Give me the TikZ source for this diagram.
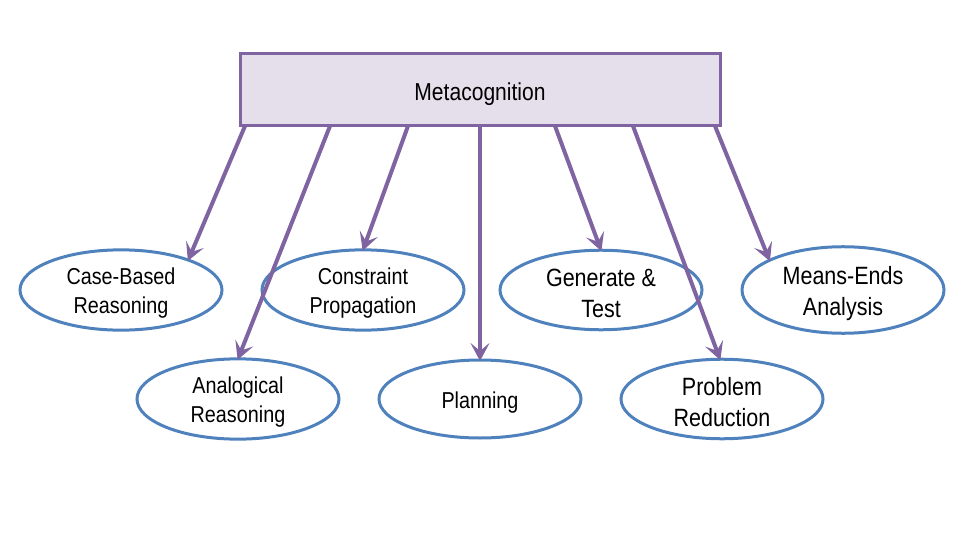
\documentclass[tikz,border=0pt]{standalone}
\usepackage{fontspec}
\setmainfont{Liberation Sans}[FakeStretch=0.86]
\usetikzlibrary{shapes.geometric,arrows.meta}
\definecolor{mpurple}{HTML}{8064A2}
\definecolor{mfill}{HTML}{E5DFEC}
\definecolor{mblue}{HTML}{4F81BD}
\newcommand{\tup}{\rule{0pt}{1em}}
\begin{document}
\begin{tikzpicture}[x=1pt,y=-1pt,
  topbox/.style={draw=mpurple, fill=mfill, line width=3pt, minimum width=480pt, minimum height=72pt, inner sep=0pt, outer sep=0pt, font=\fontsize{24.5}{28}\selectfont},
  oval/.style={ellipse, draw=mblue, line width=3pt, minimum width=202pt, minimum height=78pt, inner sep=0pt, outer sep=0pt, align=center},
  smalltext/.style={font=\fontsize{23}{29}\selectfont},
  bigtext/.style={font=\fontsize{25}{31}\selectfont},
  link/.style={draw=mpurple, line width=4pt, shorten >=-1pt, -{Stealth[length=18pt,width=19pt,inset=8pt]}}]
\useasboundingbox (0,0) rectangle (960,540);
\node[topbox] (meta) at (480,90) {\rule{0pt}{1.05em}Metacognition};
\node[oval,smalltext] (cbr) at (121,290) {\tup Case-Based\\Reasoning};
\node[oval,smalltext] (cp) at (363,290) {\tup Constraint\\Propagation};
\node[oval,bigtext] (gt) at (601,290) {\tup Generate \&\\Test};
\node[oval,bigtext] (mea) at (843,290) {\tup Means-Ends\\Analysis};
\node[oval,smalltext] (ar) at (238,399) {\tup Analogical\\Reasoning};
\node[oval,smalltext] (pl) at (480,399) {\tup Planning};
\node[oval,bigtext] (pr) at (722,399) {\tup Problem\\Reduction};
\coordinate (s1) at (245,126);
\coordinate (s2) at (330,126);
\coordinate (s3) at (408,126);
\coordinate (s4) at (480,126);
\coordinate (s5) at (555,126);
\coordinate (s6) at (633,126);
\coordinate (s7) at (715,126);
\draw[link] (s1) -- (cbr.24);
\draw[link] (s2) -- (ar.north);
\draw[link] (s3) -- (cp.north);
\draw[link] (s4) -- (pl.north);
\draw[link] (s5) -- (gt.north);
\draw[link] (s6) -- ([xshift=-2pt]pr.north);
\draw[link] (s7) -- (mea.158);
\end{tikzpicture}
\end{document}
